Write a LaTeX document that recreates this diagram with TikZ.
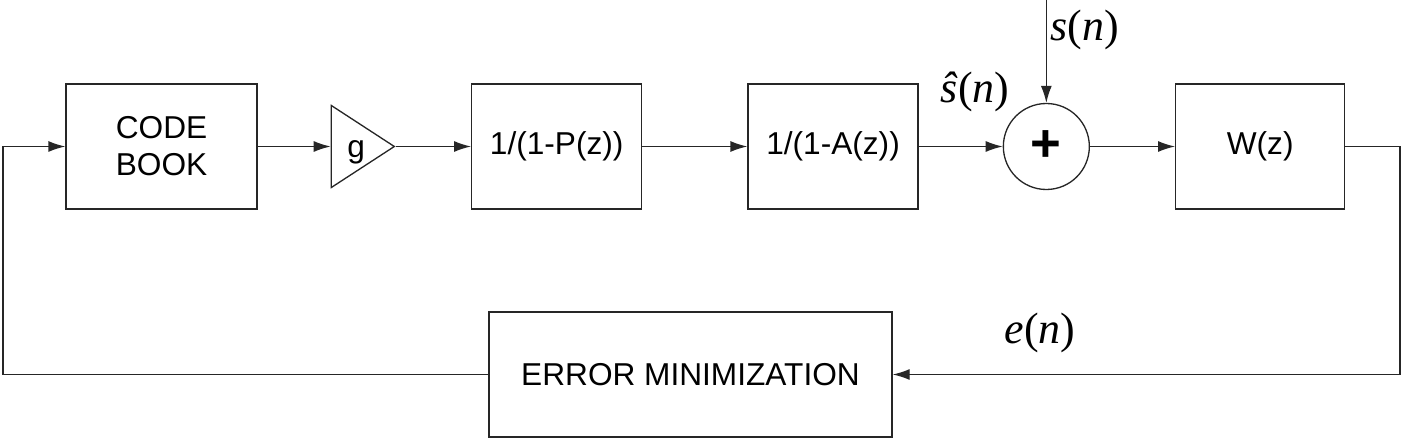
\documentclass[tikz,border=0pt]{standalone}
\usepackage{fontspec}
\setmainfont{Liberation Sans}
\newfontfamily\sigfont{Liberation Serif}
\usetikzlibrary{arrows.meta,shapes.geometric,positioning}
\tikzstyle{every picture}+=[font=\fontsize{18}{21}\selectfont]
\newcommand{\sig}[1]{{\fontsize{25}{28}\sigfont #1}}

\begin{document}
\begin{tikzpicture}[line width=0.75pt,
    block/.style={draw=black!85,minimum width=3.4cm,minimum height=2.5cm,align=center,inner sep=0pt},
    gain/.style={draw=black!85,isosceles triangle,isosceles triangle stretches,minimum width=1.64cm,minimum height=1.26cm,inner sep=0pt},
    adder/.style={draw=black!85,circle,minimum size=1.72cm,inner sep=0pt},
    sigline/.style={draw=black!85,-{Latex[length=0.34cm,width=0.22cm]}}]
    \useasboundingbox (0,0) rectangle (28.14,8.86);
    \node[block,minimum width=3.82cm] (codebook) at (3.23,5.93) {CODE\\BOOK};
    \node[gain] (g) [right=1.46cm of codebook] {\smash{\raisebox{-6pt}{g}}};
    \node[block] (pitch) [right=1.5cm of g] {1/(1-P(z))};
    \node[block] (lpc) [right=2.1cm of pitch] {1/(1-A(z))};
    \node[adder,font=\fontsize{30}{30}\selectfont\bfseries] (sum) [right=1.68cm of lpc] {+};
    \node[block,minimum width=3.38cm] (weight) [right=1.7cm of sum] {W(z)};
    \node[block,minimum width=8.06cm] (errmin) at (13.81,1.37) {ERROR MINIMIZATION};
    % input speech from the top
    \coordinate[above=2.1cm of sum] (speech);
    \node[anchor=west,inner sep=0pt] (slabel) at (21.0,8.26) {\sig{\textit{s}(\textit{n})}};
    \node[inner sep=0pt] (shatlabel) at (19.5,7.02) {\sig{\textit{ŝ}(\textit{n})}};
    \node[inner sep=0pt] (elabel) at (20.8,2.2) {\sig{\textit{e}(\textit{n})}};
    \path (codebook) edge[sigline] (g) (g) edge[sigline] (pitch) (pitch) edge[sigline] (lpc)
          (lpc) edge[sigline] (sum) (sum) edge[sigline] (weight) (speech) edge[sigline] (sum);
    % error feedback loop
    \coordinate (rturn) at (28.0,0);
    \coordinate (lturn) at (0.06,0);
    \draw[sigline] (weight.east) -| (rturn |- errmin) -- (errmin.east);
    \draw[sigline] (errmin.west) -- (lturn |- errmin) |- (codebook.west);
\end{tikzpicture}
\end{document}
